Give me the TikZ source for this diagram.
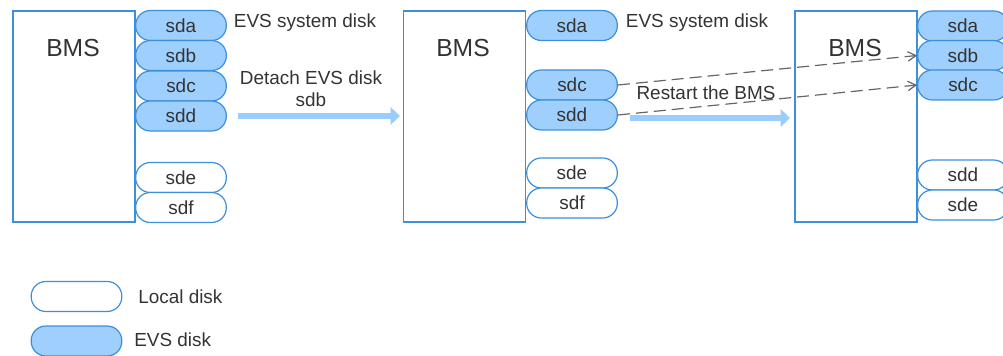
\documentclass[tikz,border=0pt]{standalone}
\usepackage{fontspec}
\setmainfont{Liberation Sans}
\usetikzlibrary{arrows.meta}
\definecolor{bline}{HTML}{3C8FDC}
\definecolor{bfill}{HTML}{9ECFFD}
\definecolor{barrow}{HTML}{99CCFF}
\definecolor{txt}{HTML}{333333}
\definecolor{dash}{HTML}{666666}
\begin{document}
\begin{tikzpicture}[x=0.75pt,y=-0.75pt,
  bms/.style={draw=bline,line width=1.2pt,minimum width=91.5pt,minimum height=158pt,inner sep=0pt},
  bmslabel/.style={font=\fontsize{18.5pt}{20pt}\selectfont,text=txt},
  disk/.style={draw=bline,line width=0.9pt,rounded corners=11pt,minimum width=68pt,minimum height=22.5pt,inner sep=0pt,font=\fontsize{14.2pt}{16pt}\selectfont,text=txt},
  evs/.style={disk,fill=bfill},
  loc/.style={disk,fill=white},
  lbl/.style={font=\fontsize{14.2pt}{16pt}\selectfont,text=txt,inner sep=0pt},
  bigarrow/.style={draw=barrow,line width=5pt,-{Triangle[width=13pt,length=7pt]}},
  dashline/.style={draw=dash,line width=0.9pt,dash pattern=on 9pt off 4.5pt,-{Straight Barb[length=6pt,width=7pt]}}
]
\useasboundingbox (0,0) rectangle (1003,356);
% panel 1
\node[bms] (b1) at (74,116.5) {};
\node[bmslabel] (t1) at (73,48) {BMS};
\node[evs] (a1) at (181,25.5) {sda};
\node[evs] (a2) at (181,55.5) {sdb};
\node[evs] (a3) at (181,86) {sdc};
\node[evs] (a4) at (181,116) {sdd};
\node[loc] (a5) at (181,177.5) {sde};
\node[loc] (a6) at (181,207.5) {sdf};
\node[lbl] (l1) at (305,23) {EVS system disk};
\node[lbl] (l2) at (311,78) {Detach EVS disk};
\node[lbl] (l3) at (311,100) {sdb};
\coordinate (s1) at (238,116);
\coordinate (e1) at (400,116);
\draw[bigarrow] (s1) -- (e1);
% panel 2
\node[bms] (b2) at (464.5,116.5) {};
\node[bmslabel] (t2) at (463,48) {BMS};
\node[evs] (c1) at (572,25.5) {sda};
\node[evs] (c3) at (572,85) {sdc};
\node[evs] (c4) at (572,115) {sdd};
\node[loc] (c5) at (572,173) {sde};
\node[loc] (c6) at (572,203) {sdf};
\node[lbl] (l4) at (697,23) {EVS system disk};
\node[lbl] (l5) at (706,93) {Restart the BMS};
\coordinate (s2) at (630,118);
\coordinate (e2) at (790,118);
\draw[bigarrow] (s2) -- (e2);
% panel 3
\node[bms] (b3) at (856,116.5) {};
\node[bmslabel] (t3) at (855,48) {BMS};
\node[evs] (d1) at (963,26) {sda};
\node[evs] (d2) at (963,55.5) {sdb};
\node[evs] (d3) at (963,85) {sdc};
\node[loc] (d4) at (963,175) {sdd};
\node[loc] (d5) at (963,205) {sde};
% dashed moves
\draw[dashline] (c3.east) -- (d2.west);
\draw[dashline] (c4.east) -- (d3.west);
% legend
\node[loc] (g1) at (76.5,296.5) {};
\node[lbl,anchor=west] (g1t) at (138,297) {Local disk};
\node[evs] (g2) at (76.5,341) {};
\node[lbl,anchor=west] (g2t) at (134,340) {EVS disk};
\end{tikzpicture}
\end{document}
